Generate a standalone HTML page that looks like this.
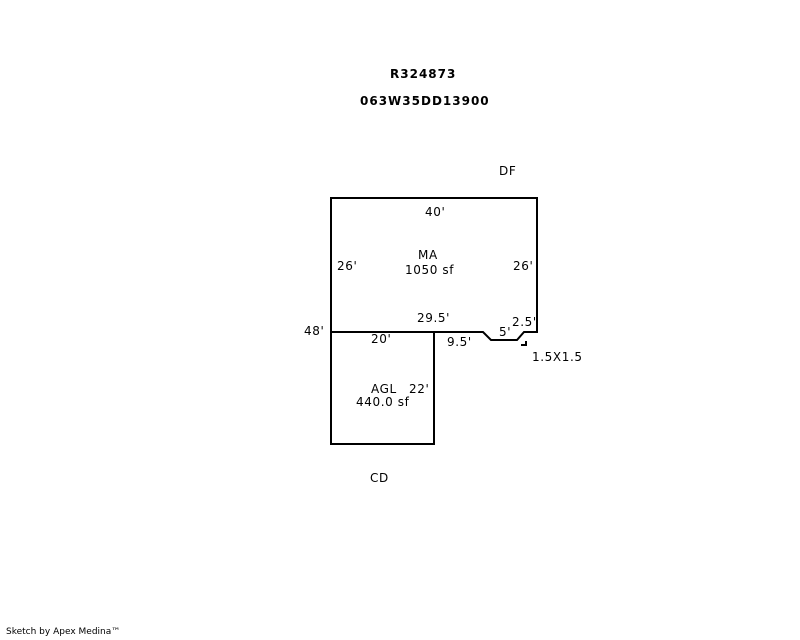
<!DOCTYPE html>
<html><head><style>
body{margin:0;background:#fff;width:800px;height:640px;overflow:hidden;position:relative;font-family:"DejaVu Sans","Liberation Sans",sans-serif;}
.t{position:absolute;font-size:12px;color:#000;white-space:nowrap;letter-spacing:0.6px;}
.b{font-weight:bold;letter-spacing:1px;}
</style></head><body>
<svg width="800" height="640" style="position:absolute;left:0;top:0">
<g fill="none" stroke="#000" stroke-width="2">
<polyline points="331,332 331,198 537,198 537,332 524,332 517,340 491,340 483,332 331,332"/>
<polyline points="331,332 331,444 434,444 434,332"/>
<polyline points="521,345 526,345 526,341" stroke-width="2"/>
</g>
</svg>
<div class="t b" style="left:390px;top:67px">R324873</div>
<div class="t b" style="left:360px;top:94px">063W35DD13900</div>
<div class="t" style="left:499px;top:164px">DF</div>
<div class="t" style="left:425px;top:205px">40'</div>
<div class="t" style="left:418px;top:248px">MA</div>
<div class="t" style="left:405px;top:263px">1050 sf</div>
<div class="t" style="left:337px;top:259px">26'</div>
<div class="t" style="left:513px;top:259px">26'</div>
<div class="t" style="left:417px;top:311px">29.5'</div>
<div class="t" style="left:512px;top:315px">2.5'</div>
<div class="t" style="left:499px;top:325px">5'</div>
<div class="t" style="left:304px;top:324px">48'</div>
<div class="t" style="left:371px;top:332px">20'</div>
<div class="t" style="left:447px;top:335px">9.5'</div>
<div class="t" style="left:532px;top:350px">1.5X1.5</div>
<div class="t" style="left:371px;top:382px">AGL</div>
<div class="t" style="left:409px;top:382px">22'</div>
<div class="t" style="left:356px;top:395px">440.0 sf</div>
<div class="t" style="left:370px;top:471px">CD</div>
<div class="t" style="left:6px;top:627px;font-size:9px;letter-spacing:0">Sketch by Apex Medina™</div>
</body></html>
